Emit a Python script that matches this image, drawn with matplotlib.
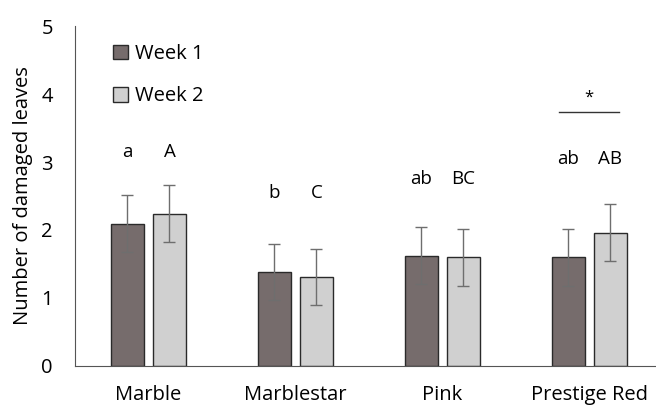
import numpy as np
import matplotlib.pyplot as plt

plt.rcParams['font.family'] = ['Open Sans', 'DejaVu Sans']
plt.rcParams['font.size'] = 14

cultivars = ["Marble", "Marblestar", "Pink", "Prestige Red"]
week1 = [2.09, 1.38, 1.62, 1.60]
week2 = [2.24, 1.31, 1.60, 1.96]
err1 = [0.42, 0.41, 0.42, 0.42]
err2 = [0.42, 0.41, 0.42, 0.42]
letters1 = ["a", "b", "ab", "ab"]
letters2 = ["A", "C", "BC", "AB"]
letter_y = [3.15, 2.54, 2.75, 3.04]

fig = plt.figure(figsize=(6.56, 4.05), dpi=100)
ax = fig.add_axes([0.1143, 0.0963, 0.896, 0.8395])

x = np.arange(len(cultivars))
w = 0.225
off = 0.143
ax.bar(x - off, week1, w, color="#766c6c", edgecolor="#2a2a2a", linewidth=1, label="Week 1",
       yerr=err1, error_kw=dict(ecolor="#6e6e6e", capsize=4, elinewidth=1, capthick=1))
ax.bar(x + off, week2, w, color="#d0d0d0", edgecolor="#2a2a2a", linewidth=1, label="Week 2",
       yerr=err2, error_kw=dict(ecolor="#6e6e6e", capsize=4, elinewidth=1, capthick=1))

for i in range(len(cultivars)):
    ax.text(x[i] - off, letter_y[i], letters1[i], ha="center", va="center", fontsize=13.5)
    ax.text(x[i] + off, letter_y[i], letters2[i], ha="center", va="center", fontsize=13.5)

# significance marker for Prestige Red
ax.plot([x[3] - off - 0.06, x[3] + off + 0.06], [3.74, 3.74], color="#333333", linewidth=1)
ax.text(x[3], 3.94, "*", ha="center", va="center", fontsize=12)

ax.set_xlim(-0.5, 3.5)
ax.set_ylim(0, 5)
ax.set_yticks([0, 1, 2, 3, 4, 5])
ax.set_xticks(x)
ax.set_xticklabels(cultivars, fontsize=14.5)
ax.tick_params(axis="x", length=0, pad=14, labelsize=14.5)
ax.tick_params(axis="y", length=0, pad=16, labelsize=14.5)
ax.spines["top"].set_visible(False)
ax.spines["right"].set_visible(False)
ax.spines["left"].set_color("#555555")
ax.spines["bottom"].set_color("#555555")
ax.set_ylabel("Number of damaged leaves", fontsize=14.5, labelpad=6)

ax.legend(loc="upper left", bbox_to_anchor=(0.033, 1.0), frameon=False, handlelength=0.75,
          handleheight=0.75, handletextpad=0.35, labelspacing=1.1, fontsize=14.5)

fig.savefig("out.png", dpi=100)
